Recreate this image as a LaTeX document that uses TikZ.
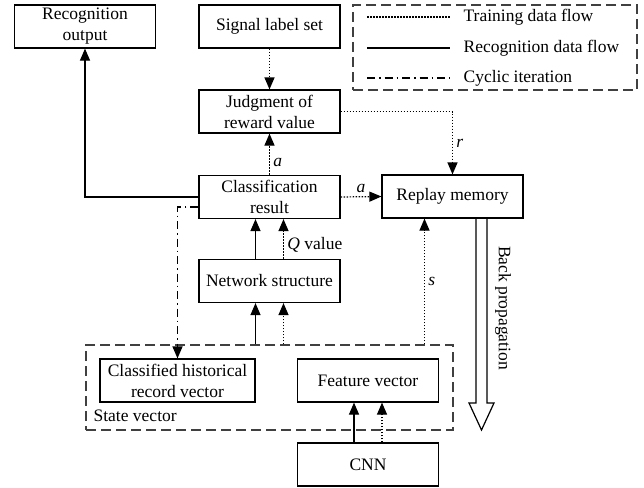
\documentclass[tikz,border=0pt]{standalone}
\usepackage{fontspec}
\setmainfont{Liberation Serif}
\usetikzlibrary{arrows.meta,positioning}
\begin{document}
\begin{tikzpicture}[x=1pt,y=-1pt,font=\fontsize{17.5}{21}\selectfont,line width=1.2pt,
  box/.style={draw, minimum width=141pt, minimum height=43pt, align=center, inner sep=1pt},
  tip/.style={-{Triangle[length=12pt,width=10pt]}},
  train/.style={dash pattern=on 1.5pt off 1.5pt},
  cyc/.style={dash pattern=on 8pt off 4pt on 1.5pt off 4pt},
  grp/.style={draw=black!75, dash pattern=on 10pt off 5pt}]
  \useasboundingbox (0,0) rectangle (644,487);
  \node[box] (recog) at (85,26.5) {Recognition\\output};
  \node[box] (label) at (269.5,26.5) {Signal label set};
  \node[box] (judge) at (269.5,111.5) {Judgment of\\reward value};
  \node[box] (classif) at (269.5,197) {Classification\\result};
  \node[box] (netw) at (269.5,281) {Network structure};
  \node[box] (replay) at (452.5,196.5) {Replay memory};
  \node[grp, minimum width=367pt, minimum height=85pt] (state) at (269.5,387.5) {};
  \node[box, minimum width=155pt] (hist) at (177.5,380.5) {Classified historical\\record vector};
  \node[box] (feat) at (368,380.5) {Feature vector};
  \node[box] (cnn) at (368,464.5) {CNN};
  \node[anchor=west, inner sep=0pt] (statelbl) at (93,416) {State vector};
  \node[grp, minimum width=284pt, minimum height=85pt] (legend) at (495,47.5) {};
  \draw[train] (367,17) -- (450,17) node[anchor=west, inner sep=0pt, xshift=13pt] {Training data flow};
  \draw (367,48) -- (450,48) node[anchor=west, inner sep=0pt, xshift=13pt] {Recognition data flow};
  \draw[cyc] (367,78) -- (450,78) node[anchor=west, inner sep=0pt, xshift=13pt] {Cyclic iteration};
  \draw[tip] (classif.west) -| (recog.south);
  \draw[tip, train] (label) -- (judge);
  \draw[tip, train] (classif) -- (judge) node[pos=0.3, right] {\textit{a}};
  \draw[tip, train] (judge.east) -| (replay.north) node[pos=0.75, right] {\textit{r}};
  \draw[tip, train] (classif.east) -- (replay.west) node[midway, above] {\textit{a}};
  \coordinate (nL) at ([xshift=-14pt]netw.north);
  \coordinate (nR) at ([xshift=14pt]netw.north);
  \draw[tip] (nL) -- (nL |- classif.south);
  \draw[tip, train] (nR) -- (nR |- classif.south) node[pos=0.35, right] {\textit{Q} value};
  \draw[tip] (nL |- state.north) -- (nL |- netw.south);
  \draw[tip, train] (nR |- state.north) -- (nR |- netw.south);
  \coordinate (rs) at ([xshift=-28pt]replay.south);
  \draw[tip, train] (rs |- state.north) -- (rs) node[midway, right] {\textit{s}};
  \coordinate (cL) at ([xshift=-14pt]cnn.north);
  \coordinate (cR) at ([xshift=14pt]cnn.north);
  \draw[tip] (cL) -- (cL |- feat.south);
  \draw[tip, train] (cR) -- (cR |- feat.south);
  \draw[tip, cyc] ([yshift=-10pt]classif.west) -| (hist.north);
  \draw (476,218) -- (476,403) -- (469,403) -- (481.5,430) -- (494,403) -- (487,403) -- (487,218);
  \node[rotate=-90] (backprop) at (503,308) {Back propagation};
\end{tikzpicture}
\end{document}
